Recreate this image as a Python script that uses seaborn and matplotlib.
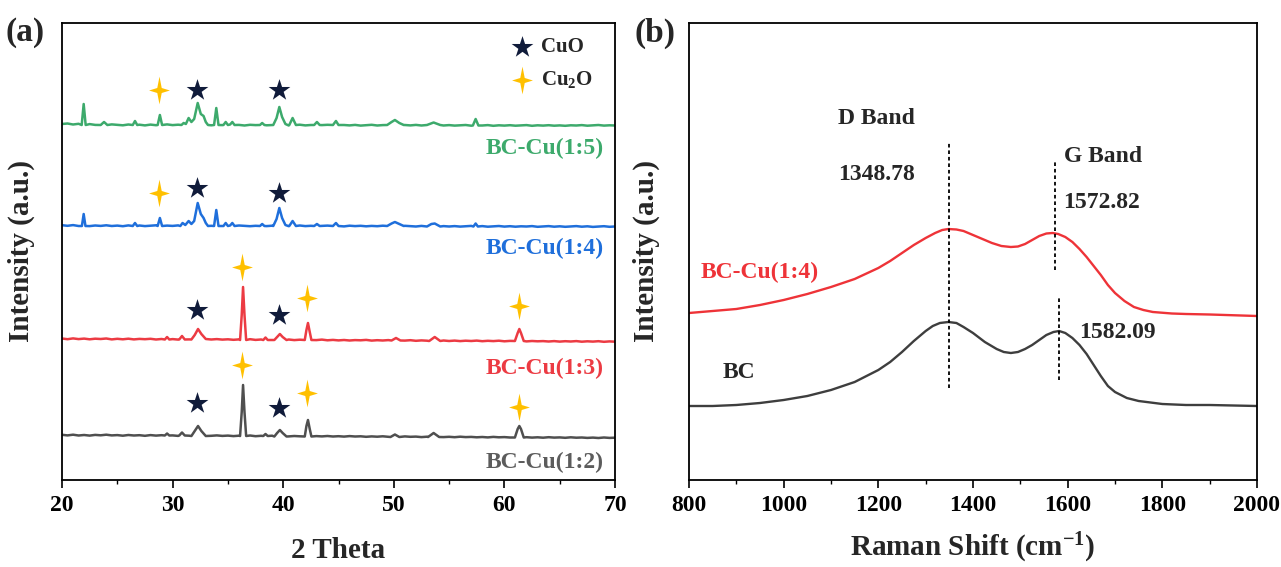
import numpy as np
import pandas as pd
import matplotlib
matplotlib.use("Agg")
import matplotlib.pyplot as plt
from matplotlib.ticker import MultipleLocator
import seaborn as sns

# ---------------- data : panel (a) XRD ----------------
tt_grid = np.arange(20.0, 70.001, 0.5)

green_bg = [356.0, 356.5, 355.5, 356.2, 355.4, 355.9, 355.1, 355.8, 355.0, 355.6,
            355.2, 354.7, 355.5, 354.9, 355.3, 354.6, 355.4, 354.8, 355.2, 355.6,
            354.9, 355.3, 354.6, 355.1, 355.5, 354.8, 355.2, 354.7, 355.3, 354.9,
            355.4, 354.8, 355.1, 354.5, 355.2, 354.9, 355.5, 354.7, 355.0, 354.6,
            355.1, 354.5, 354.9, 355.3, 354.6, 355.0, 354.4, 354.9, 355.2, 354.7,
            354.5, 355.0, 354.6, 355.1, 354.4, 354.8, 355.2, 354.5, 354.9, 354.6,
            354.8, 354.4, 355.0, 354.6, 355.1, 354.5, 354.9, 354.3, 354.8, 354.5,
            354.9, 354.4, 354.7, 355.0, 354.3, 354.8, 354.5, 354.9, 354.2, 354.7,
            354.4, 354.8, 354.3, 354.6, 354.9, 354.2, 354.7, 354.4, 354.8, 354.3,
            354.6, 354.2, 354.7, 354.5, 354.9, 354.3, 354.6, 355.0, 354.4, 354.7,
            354.5]
blue_bg = [254.8, 254.2, 254.9, 254.0, 254.6, 253.9, 254.5, 254.1, 254.7, 254.0,
           254.4, 253.8, 254.6, 254.1, 254.5, 253.9, 254.3, 254.7, 254.0, 254.4,
           254.1, 254.6, 253.9, 254.3, 254.0, 254.5, 253.8, 254.2, 254.6, 254.0,
           254.3, 253.9, 254.5, 254.1, 253.8, 254.2, 254.6, 253.9, 254.3, 254.0,
           254.4, 253.8, 254.1, 254.5, 253.9, 254.2, 253.7, 254.1, 254.4, 253.8,
           254.0, 253.6, 254.3, 253.9, 254.2, 253.7, 254.1, 253.8, 254.3, 253.6,
           254.0, 253.7, 254.2, 253.8, 253.5, 254.1, 253.7, 254.0, 253.6, 253.9,
           253.5, 253.9, 253.4, 253.8, 254.1, 253.5, 253.9, 253.3, 253.7, 254.0,
           253.4, 253.8, 253.3, 253.7, 253.5, 253.9, 253.2, 253.6, 253.9, 253.3,
           253.7, 253.2, 253.6, 253.9, 253.3, 253.7, 253.1, 253.5, 253.8, 253.2,
           253.5]
red_bg = [141.5, 140.8, 141.6, 140.9, 141.4, 140.7, 141.3, 141.0, 141.5, 140.6,
          141.2, 140.7, 141.3, 140.6, 141.1, 140.8, 141.2, 140.5, 141.0, 140.7,
          140.9, 140.4, 141.0, 140.6, 140.9, 140.3, 140.8, 140.5, 140.9, 140.4,
          140.7, 140.2, 140.6, 140.3, 140.8, 140.1, 140.5, 140.3, 140.0, 140.4,
          140.1, 140.5, 139.9, 140.3, 139.8, 140.2, 139.9, 140.4, 139.7, 140.1,
          139.6, 140.0, 139.5, 139.9, 139.7, 140.1, 139.4, 139.8, 139.5, 139.9,
          139.3, 139.7, 139.4, 139.8, 139.2, 139.6, 139.3, 139.7, 139.1, 139.5,
          139.0, 139.4, 138.9, 139.3, 139.0, 139.4, 138.8, 139.2, 138.9, 139.3,
          138.7, 139.1, 138.8, 139.2, 138.6, 139.0, 138.7, 138.9, 138.5, 138.9,
          138.4, 138.8, 138.5, 138.9, 138.3, 138.7, 138.4, 138.8, 138.2, 138.6,
          138.3]
gray_bg = [45.2, 44.6, 45.3, 44.5, 45.0, 44.4, 45.1, 44.7, 45.3, 44.6,
           44.9, 44.3, 45.0, 44.5, 44.8, 44.2, 44.9, 44.4, 44.8, 44.3,
           44.6, 44.1, 44.7, 44.3, 44.6, 44.0, 44.5, 44.2, 44.6, 44.1,
           44.4, 43.9, 44.3, 44.0, 44.5, 43.8, 44.2, 43.9, 44.3, 43.8,
           44.1, 43.6, 44.0, 43.7, 44.2, 43.5, 43.9, 43.6, 44.0, 43.5,
           43.8, 43.4, 43.9, 43.5, 43.7, 43.2, 43.6, 43.3, 43.7, 43.2,
           43.5, 43.1, 43.6, 43.2, 43.4, 42.9, 43.3, 43.0, 43.4, 42.9,
           43.2, 42.8, 43.3, 42.9, 43.1, 42.7, 43.0, 42.6, 43.1, 42.7,
           42.9, 42.5, 43.0, 42.6, 42.8, 42.4, 42.7, 42.3, 42.8, 42.4,
           42.6, 42.2, 42.7, 42.3, 42.5, 42.1, 42.4, 42.0, 42.5, 42.1,
           42.3]

green_peaks = [
    [(21.78, 355), (21.96, 376), (22.14, 355)],
    [(23.5, 355), (23.8, 358), (24.1, 355)],
    [(26.4, 355), (26.6, 359), (26.8, 355)],
    [(28.65, 355), (28.85, 365), (29.05, 355)],
    [(30.8, 355), (31.0, 357), (31.2, 356), (31.45, 362), (31.7, 358), (31.95, 361),
     (32.27, 377), (32.55, 366), (32.8, 364), (33.0, 358), (33.2, 355)],
    [(33.75, 355), (33.95, 372), (34.15, 355)],
    [(34.6, 355), (34.8, 358), (35.0, 355), (35.2, 355.5), (35.4, 358), (35.6, 355)],
    [(37.9, 355), (38.1, 357), (38.3, 355)],
    [(39.1, 355), (39.4, 362), (39.65, 373), (39.9, 363), (40.2, 356)],
    [(40.55, 355), (40.85, 362), (41.15, 355)],
    [(42.8, 355), (43.05, 358), (43.3, 355)],
    [(44.5, 355), (44.77, 359), (45.0, 355)],
    [(49.4, 355), (49.8, 358), (50.1, 360), (50.5, 357), (50.9, 355)],
    [(53.0, 355), (53.6, 357.5), (54.2, 355)],
    [(57.15, 354.5), (57.4, 361), (57.65, 354.5)],
]
blue_peaks = [
    [(21.8, 254), (21.96, 266), (22.12, 254)],
    [(26.4, 254), (26.6, 257), (26.8, 254)],
    [(28.65, 254), (28.85, 262), (29.05, 254)],
    [(30.7, 254), (30.9, 257), (31.15, 255), (31.45, 259), (31.7, 256), (31.95, 259),
     (32.27, 277), (32.55, 266), (32.8, 262), (33.0, 257), (33.2, 254)],
    [(33.75, 254), (33.95, 270), (34.15, 254)],
    [(34.6, 254), (34.8, 257), (35.0, 254), (35.2, 254.5), (35.4, 257), (35.6, 254)],
    [(37.9, 254), (38.1, 256), (38.3, 254)],
    [(39.1, 254), (39.4, 261), (39.65, 272), (39.9, 262), (40.2, 255)],
    [(40.55, 254), (40.85, 259), (41.15, 254)],
    [(42.8, 254), (43.05, 256), (43.3, 254)],
    [(44.5, 254), (44.77, 257), (45.0, 254)],
    [(49.4, 254), (49.8, 256.5), (50.1, 258), (50.5, 256), (50.9, 254)],
    [(53.0, 253.5), (53.4, 256), (53.7, 256.5), (54.2, 253.5)],
    [(57.2, 253.5), (57.4, 256.5), (57.6, 253.5)],
]
red_peaks = [
    [(29.3, 140.5), (29.5, 143), (29.7, 140.5)],
    [(30.6, 140.5), (30.85, 144), (31.1, 140.5)],
    [(31.7, 140.5), (32.0, 145), (32.3, 151), (32.6, 146), (33.0, 141)],
    [(36.1, 140), (36.25, 165), (36.37, 193), (36.5, 165), (36.65, 140)],
    [(38.2, 140), (38.4, 142.5), (38.6, 140)],
    [(39.2, 140), (39.45, 143), (39.7, 146), (39.95, 143), (40.3, 140)],
    [(41.95, 140), (42.1, 150), (42.24, 157), (42.4, 148), (42.55, 140)],
    [(49.8, 139.5), (50.2, 142), (50.6, 139.5)],
    [(53.2, 139), (53.7, 143), (54.2, 139)],
    [(60.95, 139), (61.2, 147), (61.35, 151), (61.5, 147), (61.75, 139)],
]
gray_peaks = [
    [(29.3, 44.5), (29.5, 46.5), (29.7, 44.5)],
    [(30.6, 44.5), (30.85, 47.5), (31.1, 44.5)],
    [(31.7, 44), (32.0, 49), (32.3, 54), (32.6, 49), (33.0, 44)],
    [(36.1, 44), (36.25, 68), (36.37, 95), (36.5, 68), (36.65, 44)],
    [(38.2, 44), (38.4, 46), (38.6, 44)],
    [(39.2, 43.5), (39.45, 47), (39.7, 50), (39.95, 47), (40.3, 43.5)],
    [(41.95, 43.5), (42.1, 54), (42.24, 60), (42.4, 51), (42.55, 43.5)],
    [(49.7, 43), (50.1, 45.5), (50.5, 43)],
    [(53.1, 43), (53.6, 47), (54.1, 43)],
    [(60.95, 42.5), (61.2, 51), (61.35, 54), (61.5, 51), (61.75, 42.5)],
]

xrd_names = ["BC-Cu(1:5)", "BC-Cu(1:4)", "BC-Cu(1:3)", "BC-Cu(1:2)"]
xrd_colors = ["#3DAA6C", "#1F6FDB", "#EC3B43", "#4F4F4F"]
xrd_label_colors = ["#3DAA6C", "#1F6FDB", "#EC3B43", "#5C5C5C"]
xrd_label_y = [332, 232, 112, 18]

# phase markers (2theta, height)
cuo_x = [32.2, 39.6, 32.2, 39.6, 32.2, 39.6, 32.2, 39.6]
cuo_y = [390, 390, 292, 287, 170, 165, 77, 72]
cu2o_x = [28.8, 28.8, 36.3, 42.15, 61.3, 36.3, 42.15, 61.3]
cu2o_y = [390, 287, 213, 182, 174, 115, 87, 73]

# ---------------- data : panel (b) Raman ----------------
raman_bc_x = [800, 850, 900, 950, 1000, 1050, 1100, 1125, 1150, 1175,
              1200, 1225, 1250, 1275, 1300, 1315, 1330, 1348, 1365, 1380,
              1400, 1425, 1450, 1465, 1480, 1495, 1510, 1525, 1540, 1555,
              1570, 1582, 1595, 1610, 1625, 1640, 1655, 1670, 1685, 1700,
              1725, 1750, 1800, 1850, 1900, 2000]
raman_bc_y = [74, 74, 75, 77, 80, 84, 90, 94, 98, 104,
              110, 118, 128, 139, 149, 154, 157, 158, 157, 153,
              147, 138, 131, 128, 127, 128, 131, 135, 140, 145,
              148, 149, 147, 142, 135, 126, 115, 104, 94, 88,
              82, 79, 76, 75, 75, 74]
raman_cu_x = [800, 850, 900, 950, 1000, 1050, 1100, 1150, 1200, 1225,
              1250, 1275, 1300, 1320, 1335, 1348, 1365, 1380, 1400, 1420,
              1440, 1460, 1480, 1495, 1510, 1525, 1540, 1555, 1568, 1580,
              1595, 1610, 1625, 1640, 1655, 1670, 1685, 1700, 1720, 1740,
              1760, 1780, 1820, 1850, 1900, 2000]
raman_cu_y = [167, 169, 171, 175, 180, 186, 193, 201, 212, 219,
              227, 235, 242, 247, 250, 251, 250.5, 249, 245, 241,
              237, 234, 233, 233.5, 236, 240, 244, 246.5, 247, 246,
              243, 238, 231, 223, 214, 205, 195, 187, 179, 173,
              170, 168, 166.5, 166, 165.5, 164]
d_band = 1348.78
g_band_cu = 1572.82
g_band_bc = 1582.09

# ---------------- style ----------------
sns.set_theme(style="ticks")
plt.rcParams["font.family"] = ["Liberation Serif", "DejaVu Serif"]
plt.rcParams["font.weight"] = "bold"
plt.rcParams["axes.labelweight"] = "bold"
plt.rcParams["mathtext.fontset"] = "custom"
plt.rcParams["mathtext.rm"] = "Liberation Serif:bold"
plt.rcParams["mathtext.it"] = "Liberation Serif:bold:italic"
plt.rcParams["mathtext.bf"] = "Liberation Serif:bold"
plt.rcParams["axes.edgecolor"] = "black"
plt.rcParams["xtick.color"] = "black"

fig = plt.figure(figsize=(12.81, 5.67), dpi=100)
W, H = 1281, 567
ax1 = fig.add_axes([62 / W, 1 - 480 / H, (615 - 62) / W, (480 - 23) / H])
ax2 = fig.add_axes([689 / W, 1 - 480 / H, (1257 - 689) / W, (480 - 23) / H])


def merge(bg, peaks):
    keep = []
    for x, y in zip(tt_grid, bg):
        inside = any(min(p[0] for p in g) <= x <= max(p[0] for p in g) for g in peaks)
        if not inside:
            keep.append((x, y))
    for g in peaks:
        keep.extend(g)
    keep.sort(key=lambda t: t[0])
    return pd.DataFrame(keep, columns=["two_theta", "intensity"])


for bg, pk, name, col, lcol, ly in zip([green_bg, blue_bg, red_bg, gray_bg],
                                       [green_peaks, blue_peaks, red_peaks, gray_peaks],
                                       xrd_names, xrd_colors, xrd_label_colors,
                                       xrd_label_y):
    df = merge(bg, pk)
    sns.lineplot(data=df, x="two_theta", y="intensity", ax=ax1, color=col,
                 lw=1.8, estimator=None, sort=True)
    ax1.text(69.0, ly, name, color=lcol, fontsize=17, ha="right", va="center",
             fontweight="bold")

star4 = [(0, 1), (0.16, 0.18), (0.75, 0), (0.16, -0.18), (0, -1), (-0.16, -0.18),
         (-0.75, 0), (-0.16, 0.18), (0, 1)]
navy = "#101B3A"
gold = "#FFC000"
ax1.scatter(cuo_x, cuo_y, marker="*", s=270, color=navy, linewidths=0, zorder=5)
ax1.scatter(cu2o_x, cu2o_y, marker=star4, s=400, color=gold, linewidths=0, zorder=5)
# legend
ax1.scatter([61.6], [433], marker="*", s=270, color=navy, linewidths=0, zorder=5)
ax1.scatter([61.6], [400], marker=star4, s=400, color=gold, linewidths=0, zorder=5)
ax1.text(63.3, 433, "CuO", fontsize=15, ha="left", va="center", fontweight="bold")
ax1.text(63.3, 400, "Cu$_2$O", fontsize=15, ha="left", va="center", fontweight="bold")

ax1.set_xlim(20, 70)
ax1.set_ylim(0, 457)
ax1.xaxis.set_major_locator(MultipleLocator(10))
ax1.xaxis.set_minor_locator(MultipleLocator(5))
ax1.set_xlabel("2 Theta", fontsize=21, fontweight="bold")
ax1.set_ylabel("Intensity (a.u.)", fontsize=21, fontweight="bold")

# panel b
sns.lineplot(x=raman_cu_x, y=raman_cu_y, ax=ax2, color="#EE3338", lw=1.7,
             estimator=None)
sns.lineplot(x=raman_bc_x, y=raman_bc_y, ax=ax2, color="#3E3E3E", lw=1.7,
             estimator=None)
dots = (0, (2.0, 1.6))
ax2.plot([d_band, d_band], [92, 337], color="black", lw=1.3, ls=dots)
ax2.plot([g_band_cu, g_band_cu], [210, 320], color="black", lw=1.3, ls=dots)
ax2.plot([g_band_bc, g_band_bc], [100, 182], color="black", lw=1.3, ls=dots)
ax2.text(1115, 362, "D Band", fontsize=17, ha="left", va="center", fontweight="bold")
ax2.text(1115, 305, "1348.78", fontsize=17, ha="left", va="center", fontweight="bold")
ax2.text(1592, 323, "G Band", fontsize=17, ha="left", va="center", fontweight="bold")
ax2.text(1590, 278, "1572.82", fontsize=17, ha="left", va="center", fontweight="bold")
ax2.text(1624, 148, "1582.09", fontsize=17, ha="left", va="center", fontweight="bold")
ax2.text(825, 208, "BC-Cu(1:4)", fontsize=17, ha="left", va="center",
         fontweight="bold", color="#EE3338")
ax2.text(870, 107, "BC", fontsize=17, ha="left", va="center", fontweight="bold")

ax2.set_xlim(800, 2000)
ax2.set_ylim(0, 457)
ax2.xaxis.set_major_locator(MultipleLocator(200))
ax2.xaxis.set_minor_locator(MultipleLocator(100))
ax2.set_xlabel("Raman Shift (cm$^{-1}$)", fontsize=21, fontweight="bold")
ax2.set_ylabel("Intensity (a.u.)", fontsize=21, fontweight="bold")

for ax in (ax1, ax2):
    ax.set_yticks([])
    for s in ax.spines.values():
        s.set_visible(True)
        s.set_linewidth(1.3)
        s.set_color("black")
    ax.tick_params(axis="x", which="major", direction="out", length=6, width=1.2,
                   labelsize=17, pad=5, bottom=True, top=False)
    ax.tick_params(axis="x", which="minor", direction="out", length=3, width=1.0,
                   bottom=True, top=False)
    for lab in ax.get_xticklabels():
        lab.set_fontweight("bold")
    ax.grid(False)

ax1.xaxis.set_label_coords(0.5, -0.125)
ax2.xaxis.set_label_coords(0.5, -0.112)
ax1.yaxis.set_label_coords(-0.049, 0.5)
ax2.yaxis.set_label_coords(-0.051, 0.5)

fig.text(25 / W, 1 - 33 / H, "(a)", fontsize=24, ha="center", va="center",
         fontweight="bold")
fig.text(655 / W, 1 - 33 / H, "(b)", fontsize=24, ha="center", va="center",
         fontweight="bold")

fig.savefig("out.png", dpi=100)
